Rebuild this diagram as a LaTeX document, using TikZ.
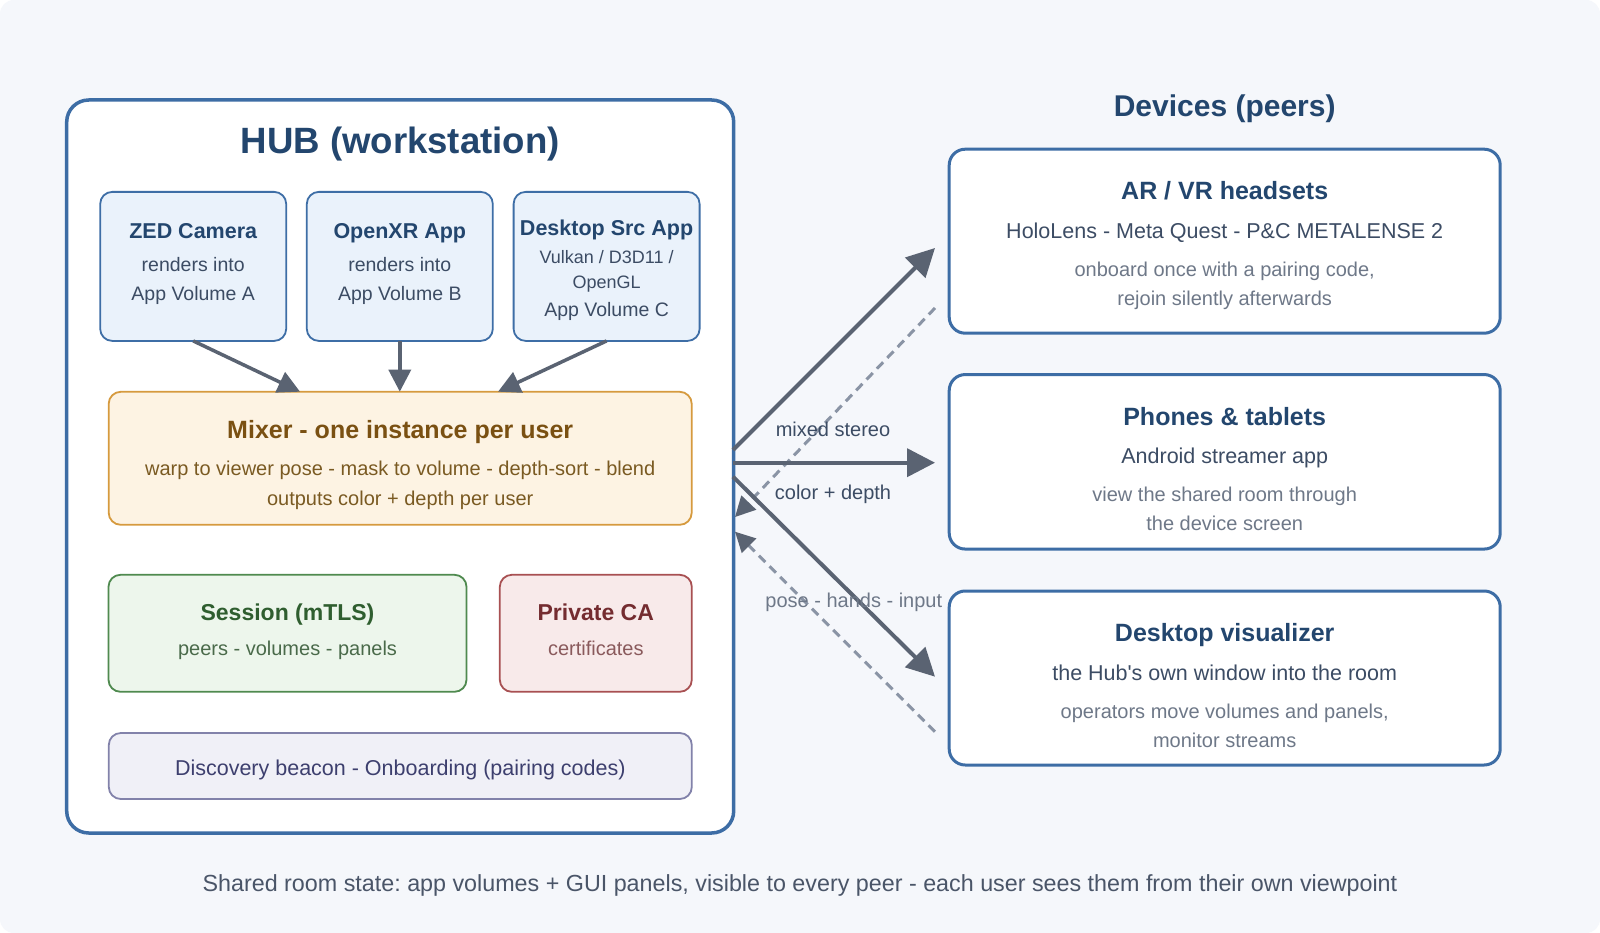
\documentclass[tikz,border=0pt]{standalone}
\usepackage{fontspec}
\setmainfont{Liberation Sans}[Ligatures=TeXOff]
\usetikzlibrary{arrows.meta}
\definecolor{bg}{HTML}{F5F7FB}
\definecolor{hubline}{HTML}{3D6DA5}
\definecolor{navy}{HTML}{23466E}
\definecolor{subtxt}{HTML}{3C4C64}
\definecolor{graytxt}{HTML}{6E7888}
\definecolor{srcfill}{HTML}{EAF2FB}
\definecolor{srcline}{HTML}{3E6EA6}
\definecolor{mixfill}{HTML}{FDF3E3}
\definecolor{mixline}{HTML}{D69A3E}
\definecolor{mixtitle}{HTML}{7A5012}
\definecolor{mixtxt}{HTML}{7A5A22}
\definecolor{sesfill}{HTML}{EDF6EC}
\definecolor{sesline}{HTML}{4F8A4F}
\definecolor{sestitle}{HTML}{2F5E2F}
\definecolor{sestxt}{HTML}{4A6A4A}
\definecolor{cafill}{HTML}{F8EAEA}
\definecolor{caline}{HTML}{A85052}
\definecolor{catitle}{HTML}{742C30}
\definecolor{catxt}{HTML}{8A5A5C}
\definecolor{disfill}{HTML}{F0F0F7}
\definecolor{disline}{HTML}{8282AA}
\definecolor{distxt}{HTML}{3D3F6E}
\definecolor{arr}{HTML}{5A6372}
\definecolor{darr}{HTML}{8A94A5}
\definecolor{foot}{HTML}{4A5568}
\newcommand\fsz[1]{\fontsize{#1}{#1}\selectfont}
\frenchspacing
\begin{document}
\begin{tikzpicture}[x=1pt,y=-1pt,
  box/.style={inner sep=0pt, outer sep=0pt, rounded corners=12pt, line width=1.8pt},
  t/.style={inner sep=0pt, anchor=base},
  srcbox/.style={box, draw=srcline, fill=srcfill, minimum width=186pt, minimum height=149pt},
  devbox/.style={box, draw=hubline, fill=white, line width=3pt, rounded corners=16pt, minimum width=551pt},
  srcarrow/.style={draw=arr, line width=3.5pt, -{Triangle[length=22pt,width=22pt]}},
  outarrow/.style={draw=arr, line width=4pt, -{Triangle[length=28pt,width=28pt]}},
  inarrow/.style={draw=darr, line width=3pt, dash pattern=on 9pt off 6pt, -{Triangle[length=20pt,width=20pt,fill=arr,color=arr]}},
]
\useasboundingbox (0,0) rectangle (1600,933);
\fill[white] (0,0) rectangle (1600,933);
\fill[bg, rounded corners=14pt] (0,0) rectangle (1600,933);

% hub
\node[box, draw=hubline, fill=white, line width=3.5pt, rounded corners=22pt, minimum width=667pt, minimum height=733pt] (hub) at (400.2,466.5) {};
\node[t, font=\fsz{36.6}\bfseries, text=navy] (hubT) at (400.2,153.3) {HUB (workstation)};

% source boxes
\node[srcbox] (zed) at (193.2,266.4) {};
\node[srcbox] (oxr) at (399.8,266.4) {};
\node[srcbox] (dsk) at (606.6,266.4) {};
\node[t, font=\fsz{21.5}\bfseries, text=navy] (zedT) at (193.2,238.3) {ZED Camera};
\node[t, font=\fsz{19.5}, text=subtxt] (zedA) at (193.2,271.7) {renders into};
\node[t, font=\fsz{19.5}, text=subtxt] (zedB) at (193.2,300) {App Volume A};
\node[t, font=\fsz{21.5}\bfseries, text=navy] (oxrT) at (399.8,238.3) {OpenXR App};
\node[t, font=\fsz{19.5}, text=subtxt] (oxrA) at (399.8,271.7) {renders into};
\node[t, font=\fsz{19.5}, text=subtxt] (oxrB) at (399.8,300) {App Volume B};
\node[t, font=\fsz{21.5}\bfseries, text=navy] (dskT) at (606.6,235.7) {Desktop Src App};
\node[t, font=\fsz{18}, text=subtxt] (dskA) at (606.6,263.3) {Vulkan / D3D11 /};
\node[t, font=\fsz{18}, text=subtxt] (dskB) at (606.6,288.3) {OpenGL};
\node[t, font=\fsz{19.5}, text=subtxt] (dskC) at (606.6,316.7) {App Volume C};

% mixer
\node[box, draw=mixline, fill=mixfill, minimum width=583pt, minimum height=133pt] (mix) at (400.2,458.3) {};
\node[t, font=\fsz{25}\bfseries, text=mixtitle] (mixT) at (400.2,438.3) {Mixer - one instance per user};
\node[t, font=\fsz{20}, text=mixtxt] (mixA) at (400.2,475) {warp to viewer pose - mask to volume - depth-sort - blend};
\node[t, font=\fsz{20}, text=mixtxt] (mixB) at (400.2,505) {outputs color + depth per user};

% session / CA
\node[box, draw=sesline, fill=sesfill, minimum width=358pt, minimum height=117pt] (ses) at (287.5,633.3) {};
\node[t, font=\fsz{23}\bfseries, text=sestitle] (sesT) at (287.5,620.7) {Session (mTLS)};
\node[t, font=\fsz{20}, text=sestxt] (sesA) at (287.5,655) {peers - volumes - panels};
\node[box, draw=caline, fill=cafill, minimum width=192pt, minimum height=117pt] (ca) at (595.8,633.3) {};
\node[t, font=\fsz{23}\bfseries, text=catitle] (caT) at (595.8,620.7) {Private CA};
\node[t, font=\fsz{20}, text=catxt] (caA) at (595.8,655) {certificates};

% discovery
\node[box, draw=disline, fill=disfill, minimum width=583pt, minimum height=66pt] (dis) at (400.3,766) {};
\node[t, font=\fsz{21.5}, text=distxt] (disT) at (400.3,775) {Discovery beacon - Onboarding (pairing codes)};

% source arrows
\coordinate (m1) at (300,391.7);
\coordinate (m2) at (399.8,391.7);
\coordinate (m3) at (498,391.7);
\draw[srcarrow] (zed.south) -- (m1);
\draw[srcarrow] (oxr.south) -- (m2);
\draw[srcarrow] (dsk.south) -- (m3);

% devices
\node[t, font=\fsz{30}\bfseries, text=navy] (devT) at (1224.7,116.5) {Devices (peers)};
\node[devbox, minimum height=184pt] (ar) at (1224.7,241.2) {};
\node[t, font=\fsz{25}\bfseries, text=navy] (arT) at (1224.7,200) {AR / VR headsets};
\node[t, font=\fsz{21.5}, text=subtxt] (arA) at (1224.7,238.3) {HoloLens - Meta Quest - P\&C METALENSE 2};
\node[t, font=\fsz{20}, text=graytxt] (arB) at (1224.7,276.7) {onboard once with a pairing code,};
\node[t, font=\fsz{20}, text=graytxt] (arC) at (1224.7,305.7) {rejoin silently afterwards};

\node[devbox, minimum height=174.5pt] (ph) at (1224.7,461.8) {};
\node[t, font=\fsz{25}\bfseries, text=navy] (phT) at (1224.7,425.2) {Phones \& tablets};
\node[t, font=\fsz{21.5}, text=subtxt] (phA) at (1224.7,463.5) {Android streamer app};
\node[t, font=\fsz{20}, text=graytxt] (phB) at (1224.7,501.9) {view the shared room through};
\node[t, font=\fsz{20}, text=graytxt] (phC) at (1224.7,530.9) {the device screen};

\node[devbox, minimum height=174pt] (dv) at (1224.7,678) {};
\node[t, font=\fsz{25}\bfseries, text=navy] (dvT) at (1224.7,641.7) {Desktop visualizer};
\node[t, font=\fsz{21.5}, text=subtxt] (dvA) at (1224.7,680) {the Hub's own window into the room};
\node[t, font=\fsz{20}, text=graytxt] (dvB) at (1224.7,718.4) {operators move volumes and panels,};
\node[t, font=\fsz{20}, text=graytxt] (dvC) at (1224.7,747.4) {monitor streams};

% hub <-> devices arrows
\coordinate (h1) at (733,450);
\coordinate (h2) at (733,462.7);
\coordinate (h3) at (733,476.7);
\coordinate (h4) at (735,517);
\coordinate (h5) at (735,531.7);
\coordinate (d1) at (935,248);
\coordinate (d2) at (935,462.7);
\coordinate (d3) at (935,676.7);
\coordinate (d4) at (935,308);
\coordinate (d5) at (935,731.7);
\draw[inarrow] (d4) -- (h4);
\draw[inarrow] (d5) -- (h5);
\draw[outarrow] (h1) -- (d1);
\draw[outarrow] (h2) -- (d2);
\draw[outarrow] (h3) -- (d3);

\node[t, font=\fsz{20}, text=subtxt] (lbl1) at (833,436.7) {mixed stereo};
\node[t, font=\fsz{20}, text=subtxt] (lbl2) at (833,499.3) {color + depth};
\node[t, font=\fsz{20}, text=graytxt] (lbl3) at (853.8,607.5) {pose - hands - input};

% footer
\node[t, font=\fsz{23.3}, text=foot] (foot) at (800,891) {Shared room state: app volumes + GUI panels, visible to every peer - each user sees them from their own viewpoint};
\end{tikzpicture}
\end{document}
